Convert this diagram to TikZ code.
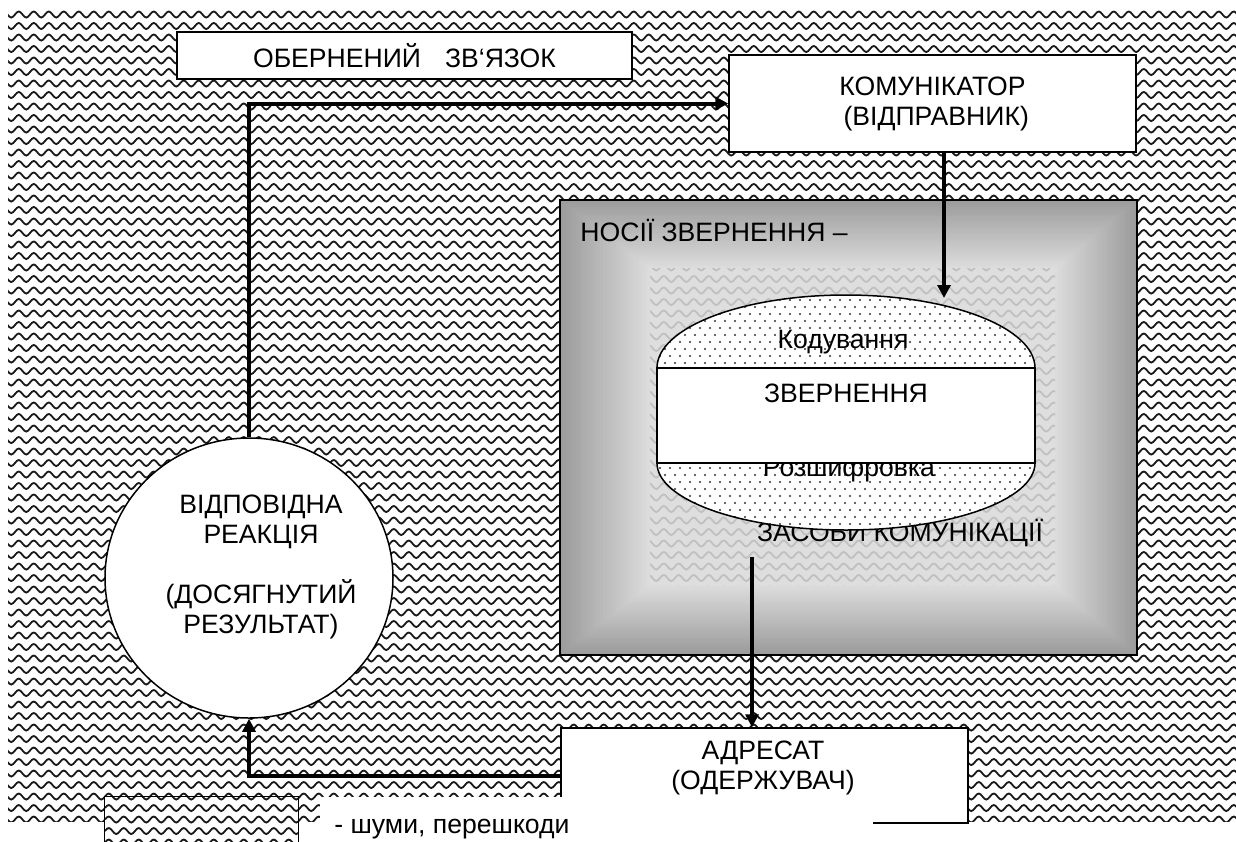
\documentclass[tikz,border=0pt]{standalone}
\usepackage{fontspec}
\setmainfont{Liberation Sans}
\usetikzlibrary{arrows.meta,shapes.geometric}
\newcommand\mywaves[5]{%
  \foreach \r in {#1,...,#2} {
    \draw[wave,#5] ({#3*15},{3+\r*11.5}) \foreach \i in {#3,...,#4} { sin ++(3.75,-3) cos ++(3.75,3) sin ++(3.75,3) cos ++(3.75,-3) };
  }}
\begin{document}
\begin{tikzpicture}[x=0.5pt,y=-0.5pt,
  txt/.style={inner sep=0pt,font=\fontsize{13.3}{15}\selectfont,align=center},
  box/.style={txt,draw=black,line width=0.75pt,fill=white},
  arr/.style={line width=2pt,-{Triangle[length=6.5pt,width=6.5pt]}},
  wave/.style={draw=black!90,line width=0.9pt},
]
\useasboundingbox (0,0) rectangle (1236,841);
% noise background
\begin{scope}
  \clip (8,8) rectangle (1236,821);
  \mywaves{0}{71}{0}{82}{}
\end{scope}

% feedback label
\node[box,minimum width=227.5pt,minimum height=23.5pt] (fb) at (404.5,55.5) {ОБЕРНЕНИЙ\hspace{0.9em}ЗВ‘ЯЗОК};
% communicator
\node[box,minimum width=203.5pt,minimum height=48.5pt] (kom) at (932.5,103.5) {КОМУНІКАТОР\\\ (ВІДПРАВНИК)};

% media box with gradient
\foreach \k in {0,...,29} {
  \pgfmathsetmacro\w{61+26*\k/29}
  \fill[white!\w!black] ({560+\k*90/29},{200+\k*68/29}) rectangle ({1137-\k*82/29},{655-\k*70/29});
}
\begin{scope}
  \clip (650,268) rectangle (1055,585);
  \mywaves{22}{51}{43}{70}{opacity=0.15}
\end{scope}
\node[draw=black,line width=1.2pt,minimum width=288.5pt,minimum height=227.5pt,inner sep=0pt] (media) at (848.5,427.5) {};
\node[txt,anchor=west] (mt1) at (580,230) {НОСІЇ ЗВЕРНЕННЯ –};
\node[txt] (mt2) at (900,533) {ЗАСОБИ КОМУНІКАЦІЇ};

% message capsule
\def\capsule{(657,368) arc[start angle=180,end angle=360,x radius=189,y radius=73] -- (1035,463) arc[start angle=0,end angle=180,x radius=189,y radius=67] -- cycle}
\fill[white] \capsule;
\begin{scope}
  \clip \capsule;
  \foreach \yy in {0,...,34} {
    \foreach \xx in {0,...,38} {
      \fill[black!80] ({655+\xx*10+5*mod(\yy,2)},{293+\yy*7}) circle (0.55pt);
    }
  }
\end{scope}
\node[txt] (enc) at (843,342) {Кодування};
\node[txt] (dec) at (849,470) {Розшифровка};
\node[box,minimum width=189pt,minimum height=47.5pt] (msg) at (846,415.5) {};
\node[txt] (msgt) at (846,393) {ЗВЕРНЕННЯ};
\draw[line width=0.75pt] \capsule;
\coordinate (tgt) at (944,298);
\coordinate (src) at (752,557);

% response circle
\node[draw=black,line width=0.75pt,fill=white,ellipse,minimum width=144pt,minimum height=140pt,inner sep=0pt] (resp) at (249,578) {};
\node[txt] (respt) at (261,567) {ВІДПОВІДНА\\РЕАКЦІЯ\\ \\(ДОСЯГНУТИЙ\\РЕЗУЛЬТАТ)};

% addressee
\node[box,minimum width=203.5pt,minimum height=47.5pt] (adr) at (764.5,775.5) {};
\node[txt] (adrt) at (763,768) {АДРЕСАТ\\(ОДЕРЖУВАЧ)};

% legend
\node[fill=white,minimum width=276.5pt,minimum height=30pt,inner sep=0pt] (legbg) at (596.5,827) {};
\node[txt,anchor=base west] (legt) at (334,833) {- шуми, перешкоди};
\node[fill=white,minimum width=96.5pt,minimum height=35pt,inner sep=0pt] (leg) at (201.5,832) {};
\begin{scope}
  \clip (105,797) rectangle (298,850);
  \mywaves{69}{74}{7}{19}{}
\end{scope}
\draw[line width=0.75pt] (leg.south west) -- (leg.north west) -- (leg.north east) -- (leg.south east);

% connectors
\draw[arr] (resp.north) -- (resp.north |- kom.west) -- (kom.west);
\draw[arr] (kom.south -| tgt) -- (tgt);
\draw[arr] (src) -- (src |- adr.north);
\draw[arr] (adr.west) -- (adr.west -| resp.south) -- (resp.south);
\end{tikzpicture}
\end{document}
